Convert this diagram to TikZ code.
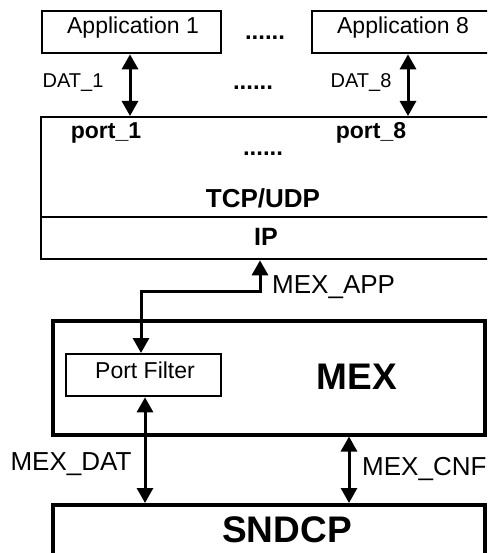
\documentclass[tikz,border=0pt]{standalone}
\usepackage{fontspec}
\setmainfont{Liberation Sans}
\usetikzlibrary{arrows.meta,calc}
\begin{document}
\begin{tikzpicture}[x=1pt,y=-1pt,
  thinbox/.style={draw,line width=2.3pt,inner sep=0pt,anchor=north west},
  thickbox/.style={draw,line width=3.5pt,inner sep=0pt,anchor=north west},
  lbl/.style={inner sep=0pt,font=\fontsize{#1}{#1}\selectfont},
  blbl/.style={inner sep=0pt,font=\fontsize{#1}{#1}\selectfont\bfseries},
  dbl/.style={line width=3pt,{Triangle[length=15pt,width=16pt]}-{Triangle[length=15pt,width=16pt]}}]
\useasboundingbox (0,0) rectangle (487,553);
\clip (0,0) rectangle (487,553);
% application boxes
\node[thinbox,minimum width=179pt,minimum height=42pt] (app1) at (41,10) {};
\node[lbl=23] (app1t) at (133,28) {Application 1};
\node[thinbox,minimum width=184pt,minimum height=42pt] (app8) at (311,10) {};
\node[lbl=23] (app8t) at (403,28) {Application 8};
\node[blbl=24] (dotsA) at (265,38) {......};
% transport box
\node[thinbox,minimum width=450pt,minimum height=100pt] (tcp) at (40,116) {};
\node[thinbox,minimum width=450pt,minimum height=42pt] (ip) at (40,216) {};
\node[blbl=23] (p1) at (106,133) {port\_1};
\node[blbl=23] (p8) at (371,133) {port\_8};
\node[blbl=24] (dotsC) at (263,154) {......};
\node[blbl=26] (tcpt) at (263,198) {TCP/UDP};
\node[blbl=25] (ipt) at (266,237) {IP};
% DAT arrows
\coordinate (d1) at (130,0);
\coordinate (d8) at (408,0);
\draw[dbl] (app1.south -| d1) -- (tcp.north -| d1);
\draw[dbl] (app8.south -| d8) -- (tcp.north -| d8);
\node[lbl=20] (dat1) at (73,83) {DAT\_1};
\node[lbl=20] (dat8) at (361,83) {DAT\_8};
\node[blbl=24] (dotsB) at (253,88) {......};
% MEX
\node[thickbox,minimum width=432pt,minimum height=114pt] (mex) at (51,319) {};
\node[thinbox,minimum width=155pt,minimum height=42pt] (pf) at (65,353) {};
\node[lbl=23] (pft) at (145,370) {Port Filter};
\node[blbl=37] (mext) at (357,377) {MEX};
% MEX_APP connector
\coordinate (ma) at (141,0);
\coordinate (ipx) at (260,0);
\coordinate (bend) at (0,291);
\draw[dbl] (pf.north -| ma) -- (bend -| ma) -- (bend -| ipx) -- (ip.south -| ipx);
\node[lbl=26,anchor=west] (mexapp) at (272,287) {MEX\_APP};
% SNDCP
\node[thickbox,minimum width=432pt,minimum height=100pt] (sndcp) at (51,503) {};
\node[blbl=37] (sndcpt) at (287,530) {SNDCP};
% lower arrows
\coordinate (md) at (145,0);
\coordinate (mc) at (349,0);
\draw[dbl] (pf.south -| md) -- (sndcp.north -| md);
\draw[dbl] (mex.south -| mc) -- (sndcp.north -| mc);
\node[lbl=26] (mexdat) at (71,464) {MEX\_DAT};
\node[lbl=26,anchor=west] (mexcnf) at (362,469) {MEX\_CNF};
\end{tikzpicture}
\end{document}
